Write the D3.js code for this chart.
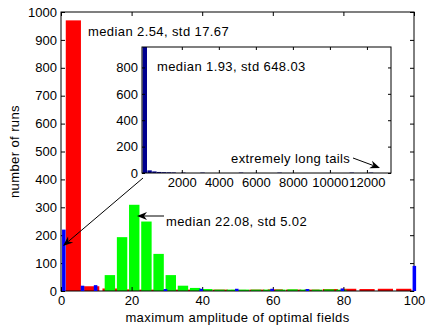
<!DOCTYPE html>
<html>
<head>
<meta charset="utf-8">
<script src="https://cdn.jsdelivr.net/npm/d3@7"></script>
<style>
  html, body { margin: 0; padding: 0; background: #fff; }
  svg text { font-family: "Liberation Sans", Arial, Helvetica, sans-serif; font-size: 13px; fill: #000; }
</style>
</head>
<body>
<svg id="chart" width="427" height="328"></svg>
<script>
// Histogram of maximum amplitudes (three runs overlaid) with a zoomed-out inset

// red series: bin centres and counts
const redBins   = [3.5, 8.7, 13.9, 19.1, 24.3, 29.5, 34.7, 39.9, 45.1, 50.3, 55.5, 60.7, 65.9, 71.1, 76.3, 81.5, 86.7, 91.9, 97.1];
const redCounts = [970, 17, 9, 6, 5, 5, 5, 6, 5, 4, 5, 6, 5, 5, 7, 8, 7, 8, 8];
const redWidth = 4.3;

// green series
const greenBins   = [13.85, 17.3, 20.75, 24.2, 27.65, 31.1, 34.55, 38.0, 41.45, 44.9, 48.35, 51.8, 55.25, 58.7, 62.15, 65.6, 69.05, 72.5, 75.95, 79.4];
const greenCounts = [57, 193, 309, 249, 133, 57, 19, 11, 7, 5, 5, 5, 5, 5, 5, 6, 5, 5, 6, 5];
const greenWidth = 2.95;

// blue series
const blueBins   = [0.8, 6.1, 9.8, 29.6, 39.7, 49.8, 59.8, 69.8, 79.7, 100.1];
const blueCounts = [220, 19, 21, 7, 8, 8, 8, 7, 9, 90];
const blueWidth = 1.0;

// inset: full range of the blue series
const insetBins   = [0, 260, 520, 780, 1040, 1300, 1560, 2080, 3120, 5200, 7280, 11180, 12220];
const insetCounts = [955, 20, 12, 8, 6, 5, 4, 3, 3, 3, 3, 3, 3];
const insetWidth = 240;

const mainXTicks = [0, 20, 40, 60, 80, 100];
const mainYTicks = [0, 100, 200, 300, 400, 500, 600, 700, 800, 900, 1000];
const insetXTicks = [2000, 4000, 6000, 8000, 10000, 12000];
const insetYTicks = [0, 200, 400, 600, 800];

const svg = d3.select("#chart");

const main = { left: 61, right: 414, top: 12, bottom: 291 };
const x = d3.scaleLinear().domain([0, 100]).range([main.left, main.right]);
const y = d3.scaleLinear().domain([0, 1000]).range([main.bottom, main.top]);

const inset = { left: 142, right: 391, top: 47, bottom: 173 };
const xi = d3.scaleLinear().domain([-150, 13300]).range([inset.left, inset.right]);
const yi = d3.scaleLinear().domain([0, 955]).range([inset.bottom, inset.top]);

const fmt = d3.format("d");

function drawBars(g, xs, ys, centres, counts, width, colour) {
  g.append("g").selectAll("rect")
    .data(centres.map((c, i) => ({ c, v: counts[i] })))
    .join("rect")
    .attr("x", d => xs(d.c - width / 2))
    .attr("width", d => xs(d.c + width / 2) - xs(d.c - width / 2))
    .attr("y", d => ys(d.v))
    .attr("height", d => ys(0) - ys(d.v))
    .attr("fill", colour);
}

// box with inward ticks on all four sides, like a boxed axes
function drawFrame(g, xs, ys, box, xTicks, yTicks, tickLen) {
  g.append("rect")
    .attr("x", box.left).attr("y", box.top)
    .attr("width", box.right - box.left).attr("height", box.bottom - box.top)
    .attr("fill", "none").attr("stroke", "#000").attr("stroke-width", 1);
  const bottom = d3.axisBottom(xs).tickValues(xTicks).tickFormat(fmt).tickSizeInner(-tickLen).tickSizeOuter(0).tickPadding(5);
  const top = d3.axisTop(xs).tickValues(xTicks).tickSizeInner(-tickLen).tickSizeOuter(0).tickFormat("");
  const left = d3.axisLeft(ys).tickValues(yTicks).tickFormat(fmt).tickSizeInner(-tickLen).tickSizeOuter(0).tickPadding(4);
  const right = d3.axisRight(ys).tickValues(yTicks).tickSizeInner(-tickLen).tickSizeOuter(0).tickFormat("");
  const style = sel => {
    sel.select(".domain").remove();
    sel.selectAll("text").attr("font-family", null).attr("font-size", null).attr("fill", "#000");
    sel.selectAll("line").attr("stroke", "#000");
  };
  g.append("g").attr("transform", `translate(0,${box.bottom})`).call(bottom).call(style);
  g.append("g").attr("transform", `translate(0,${box.top})`).call(top).call(style);
  g.append("g").attr("transform", `translate(${box.left},0)`).call(left).call(style);
  g.append("g").attr("transform", `translate(${box.right},0)`).call(right).call(style);
}

function arrow(g, x1, y1, x2, y2) {
  const ang = Math.atan2(y2 - y1, x2 - x1);
  const L = 10, W = 4, back = 7;
  const p = (d, s) => [x2 - d * Math.cos(ang) - s * Math.sin(ang), y2 - d * Math.sin(ang) + s * Math.cos(ang)];
  g.append("line")
    .attr("x1", x1).attr("y1", y1)
    .attr("x2", p(back, 0)[0]).attr("y2", p(back, 0)[1])
    .attr("stroke", "#000").attr("stroke-width", 1);
  g.append("path")
    .attr("d", "M" + [[x2, y2], p(L, W), p(back, 0), p(L, -W)].map(q => q.join(",")).join("L") + "Z")
    .attr("fill", "#000");
}

// main histogram
const gMain = svg.append("g");
drawBars(gMain, x, y, redBins, redCounts, redWidth, "#ff0000");
drawBars(gMain, x, y, greenBins, greenCounts, greenWidth, "#00ff00");
drawFrame(gMain, x, y, main, mainXTicks, mainYTicks, 4);
drawBars(gMain, x, y, blueBins, blueCounts, blueWidth, "#0000ff");

gMain.append("text").attr("x", (main.left + main.right) / 2).attr("y", 322)
  .attr("text-anchor", "middle").attr("letter-spacing", "0.4px").text("maximum amplitude of optimal fields");
gMain.append("text").attr("transform", `translate(19,${(main.top + main.bottom) / 2}) rotate(-90)`)
  .attr("text-anchor", "middle").attr("letter-spacing", "0.4px").text("number of runs");

gMain.append("text").attr("x", 88).attr("y", 36).attr("letter-spacing", "0.4px").text("median 2.54, std 17.67");
gMain.append("text").attr("x", 166).attr("y", 226).attr("letter-spacing", "0.4px").text("median 22.08, std 5.02");

// inset
const gInset = svg.append("g");
gInset.append("rect")
  .attr("x", inset.left).attr("y", inset.top)
  .attr("width", inset.right - inset.left).attr("height", inset.bottom - inset.top)
  .attr("fill", "#fff");
drawBars(gInset, xi, yi, insetBins, insetCounts, insetWidth, "#00008f");
drawFrame(gInset, xi, yi, inset, insetXTicks, insetYTicks, 3);
gInset.append("text").attr("x", 157).attr("y", 71).attr("letter-spacing", "0.4px").text("median 1.93, std 648.03");
gInset.append("text").attr("x", 231).attr("y", 163).attr("letter-spacing", "0.4px").text("extremely long tails");

// pointers
const gArrows = svg.append("g");
arrow(gArrows, 353, 158, 380, 168);
arrow(gArrows, 164, 216, 137, 216);
arrow(gArrows, 143, 178, 63, 246);
</script>
</body>
</html>
